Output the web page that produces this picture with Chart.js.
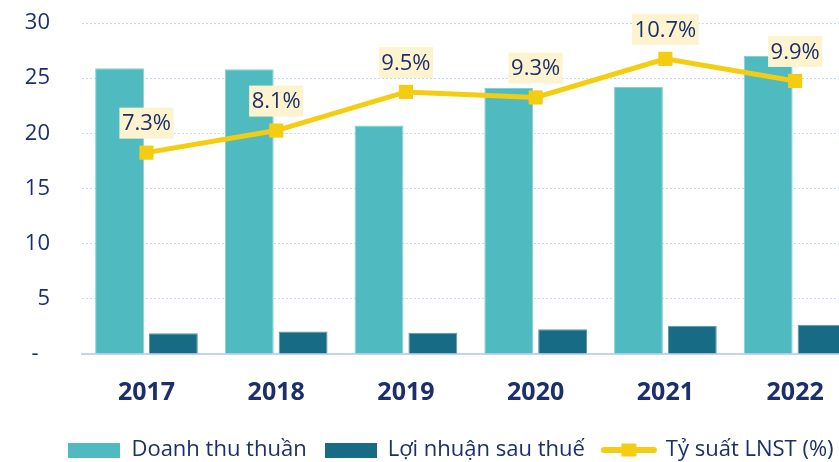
<!DOCTYPE html>
<html><head><meta charset="utf-8">
<script src="https://cdn.jsdelivr.net/npm/chart.js@4.4.1/dist/chart.umd.min.js"></script>
<style>
html,body{margin:0;padding:0;overflow:hidden;background:#fff;width:839px;height:462px}
#wrap{position:relative;width:870px;height:462px}
canvas{display:block}
</style></head>
<body><div id="wrap"><canvas id="c" width="870" height="462"></canvas></div>
<script>
// ---- data ----
const categories = ['2017', '2018', '2019', '2020', '2021', '2022'];
const revenue = [25.9, 25.8, 20.7, 24.1, 24.2, 27.0];
const profit = [1.87, 2.03, 1.93, 2.24, 2.56, 2.65];
const margin = [7.3, 8.1, 9.5, 9.3, 10.7, 9.9];
const yTicks = [0, 5, 10, 15, 20, 25, 30];
const seriesNames = ['Doanh thu thuần', 'Lợi nhuận sau thuế', 'Tỷ suất LNST (%)'];

// ---- styles ----
const TEAL = '#4FBAC0', DARK = '#186B84', YELLOW = '#F4CC10', NAVY = '#1B2F6B', CREAM = '#FDF4CF';
const FONT = '"Open Sans", "Noto Sans", sans-serif';

function makeIcon(kind) {
  const c = document.createElement('canvas');
  if (kind === 'line') {
    c.width = 58; c.height = 16;
    const g = c.getContext('2d');
    g.strokeStyle = YELLOW; g.lineWidth = 6; g.lineCap = 'round';
    g.beginPath(); g.moveTo(4, 8); g.lineTo(54, 8); g.stroke();
    g.fillStyle = YELLOW; g.fillRect(29 - 7.5, 8 - 6.5, 15, 13);
  } else {
    c.width = 52; c.height = 15;
    const g = c.getContext('2d');
    g.fillStyle = kind; g.fillRect(0, 0, 52, 15);
  }
  return c;
}
const legendIcons = [makeIcon(TEAL), makeIcon(DARK), makeIcon('line')];

const pointLabels = {
  id: 'pointLabels',
  afterDatasetsDraw(chart) {
    const meta = chart.getDatasetMeta(2);
    const ctx = chart.ctx;
    ctx.save();
    ctx.font = '22px ' + FONT;
    ctx.textAlign = 'center';
    ctx.textBaseline = 'middle';
    meta.data.forEach((pt, i) => {
      const txt = margin[i].toFixed(1) + '%';
      const w = ctx.measureText(txt).width + 5;
      const h = 31;
      const bottom = pt.y - 14;
      ctx.fillStyle = CREAM;
      ctx.fillRect(pt.x - w / 2, bottom - h, w, h);
      ctx.fillStyle = NAVY;
      ctx.fillText(txt, pt.x, bottom - h / 2 + 1);
    });
    ctx.restore();
  }
};

const legendShift = {
  id: 'legendShift',
  beforeInit(chart) {
    const lg = chart.legend;
    if (!lg) return;
    const orig = lg.fit.bind(lg);
    lg.fit = function () { orig(); this.height -= 9; };
  },
  afterLayout(chart) {
    const lg = chart.legend;
    if (!lg) return;
    lg.left += 17.5; lg.right += 17.5;
  }
};

new Chart(document.getElementById('c'), {
  data: {
    labels: categories,
    datasets: [
      { type: 'bar', label: seriesNames[0], data: revenue, backgroundColor: TEAL, borderColor: '#86CFD3', borderWidth: 1, yAxisID: 'y', order: 1,
        categoryPercentage: 0.83, barPercentage: 0.907 },
      { type: 'bar', label: seriesNames[1], data: profit, backgroundColor: DARK, borderColor: '#5C95A8', borderWidth: 1, yAxisID: 'y', order: 1,
        categoryPercentage: 0.83, barPercentage: 0.907 },
      { type: 'line', label: seriesNames[2], data: margin, borderColor: YELLOW, backgroundColor: YELLOW, borderWidth: 5,
        pointStyle: 'rect', pointRadius: 10, pointHoverRadius: 10, pointBorderWidth: 0, pointBackgroundColor: YELLOW,
        tension: 0, yAxisID: 'y1', order: 0, clip: false }
    ]
  },
  options: {
    responsive: false,
    animation: false,
    layout: { padding: { top: 23, left: 0, right: 3, bottom: 0 } },
    plugins: {
      tooltip: { enabled: false },
      legend: {
        position: 'bottom',
        labels: {
          usePointStyle: true,
          pointStyleWidth: 52,
          padding: 18,
          color: NAVY,
          font: { family: FONT, size: 22 },
          generateLabels(chart) {
            return chart.data.datasets.map((ds, i) => ({
              text: ds.label, pointStyle: legendIcons[i], fontColor: NAVY,
              hidden: !chart.isDatasetVisible(i), datasetIndex: i,
              lineWidth: 0, strokeStyle: 'rgba(0,0,0,0)', fillStyle: 'rgba(0,0,0,0)'
            }));
          }
        }
      }
    },
    scales: {
      x: {
        grid: { display: false },
        border: { display: true, color: '#C3D3F4', width: 2 },
        ticks: { color: NAVY, font: { family: FONT, size: 25, weight: 'bold' }, padding: 16 },
        afterFit(s) { s.height = 67; }
      },
      y: {
        position: 'left',
        min: 0, max: 30,
        grid: { color: '#C9D8F5', lineWidth: 1, drawTicks: false },
        border: { display: false, dash: [2, 2] },
        afterBuildTicks(s) { s.ticks = yTicks.map(v => ({ value: v })); },
        ticks: {
          color: NAVY, font: { family: FONT, size: 22 }, padding: 31.6,
          callback: v => (v === 0 ? '-  ' : String(v))
        },
        afterFit(s) { s.width = 81.6; s.paddingTop = 13; s.paddingBottom = 0; }
      },
      y1: { display: false, min: 0, max: 12, position: 'right' }
    }
  },
  plugins: [pointLabels, legendShift]
});
</script>
</body></html>
